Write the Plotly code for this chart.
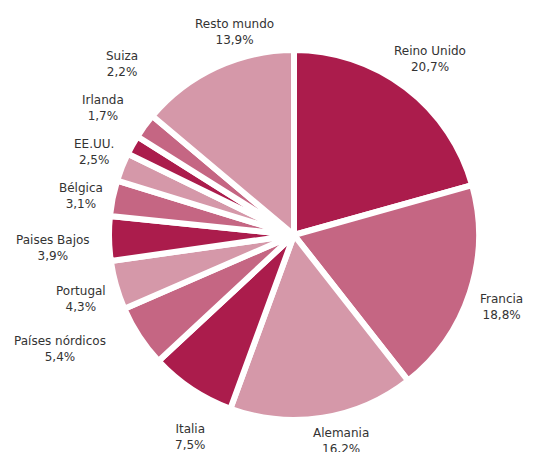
import math
import plotly.graph_objects as go

labels = ["Reino Unido", "Francia", "Alemania", "Italia", "Países nórdicos", "Portugal",
          "Paises Bajos", "Bélgica", "EE.UU.", "Irlanda", "Suiza", "Resto mundo"]
values = [20.7, 18.8, 16.2, 7.5, 5.4, 4.3, 3.9, 3.1, 2.5, 1.7, 2.2, 13.9]

dark = "#AB1C4C"
mid = "#C56683"
light = "#D598A9"
colors = [dark, mid, light] * 4

# small label nudges (degrees along the circle, px outward) to keep labels apart
label_dtheta = {"Resto mundo": 9, "Países nórdicos": 8, "Italia": -6, "Alemania": -4,
                "Paises Bajos": -1}
label_dr = {"Países nórdicos": 14, "Italia": 10, "Alemania": -4, "Paises Bajos": 8}

W, H = 536, 452
# target pie geometry (pixels from top-left)
PCX, PCY, R = 294, 235, 185
dom_x = [(PCX - R) / W, (PCX + R) / W]
dom_y = [(H - PCY - R) / H, (H - PCY + R) / H]

fig = go.Figure(go.Pie(
    labels=labels,
    values=values,
    sort=False,
    direction="clockwise",
    rotation=0,
    marker=dict(colors=colors, line=dict(color="white", width=6)),
    textinfo="none",
    showlegend=False,
    hoverinfo="label+value",
    domain=dict(x=dom_x, y=dom_y),
))

# labels placed outside each slice, along its mid angle
total = sum(values)
cum = 0.0
font_px = 12
line_h = 16
pos = []
for lab, v in zip(labels, values):
    mid_frac = (cum + v / 2) / total
    cum += v
    th = 2 * math.pi * mid_frac + math.radians(label_dtheta.get(lab, 0))
    s, c = math.sin(th), math.cos(th)
    w = max(len(lab), 5) * font_px * 0.6
    h = 2 * line_h
    d = R + 4 + (w / 2) * abs(s) + (h / 2) * abs(c) + label_dr.get(lab, 0)
    pos.append([PCX + d * s, PCY - d * c + 4])

# vertical de-overlap of crowded labels on the left side (bottom to top)
left = [i for i in range(len(labels)) if pos[i][0] < PCX - 120 and pos[i][1] < PCY + 40]
left.sort(key=lambda i: -pos[i][1])
for a, b in zip(left, left[1:]):
    if pos[b][1] > pos[a][1] - 44:
        pos[b][1] = pos[a][1] - 44

for (x, y), lab, v in zip(pos, labels, values):
    txt = f"{lab}<br>" + f"{v:.1f}".replace(".", ",") + "%"
    fig.add_annotation(
        x=x / W, y=1 - y / H,
        xref="paper", yref="paper",
        xanchor="center", yanchor="middle",
        text=txt, showarrow=False, align="center",
        font=dict(family="DejaVu Sans", size=font_px, color="#333333"),
    )

fig.update_layout(
    width=W, height=H,
    margin=dict(l=0, r=0, t=0, b=0),
    paper_bgcolor="white",
    showlegend=False,
)

fig.write_html("out.html", config={"displayModeBar": False},
               post_script="document.body.style.margin='0';")
